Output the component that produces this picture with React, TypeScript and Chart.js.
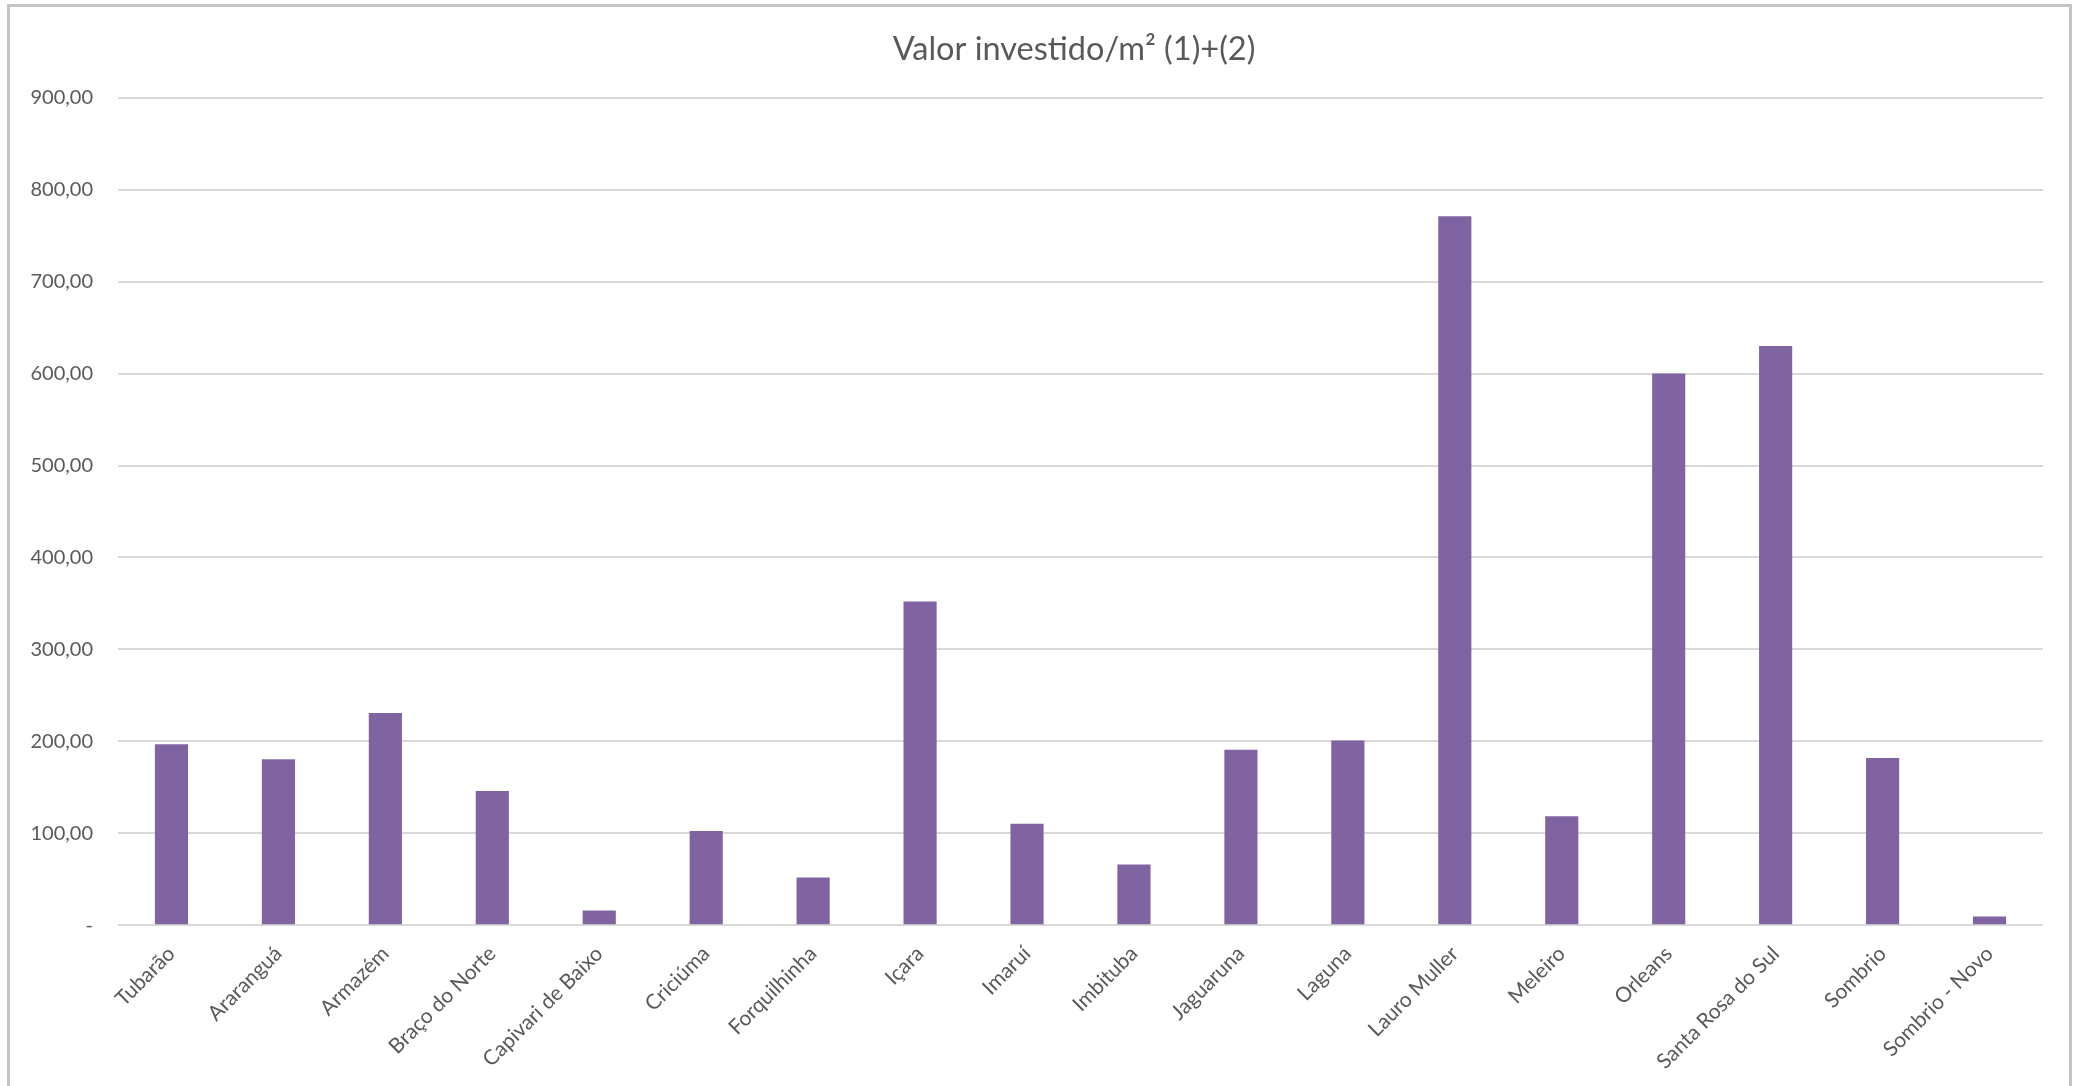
import React, { useEffect, useRef } from "react";
import { Chart, registerables } from "chart.js";

Chart.register(...registerables);

const categories = [
  "Tubarão",
  "Araranguá",
  "Armazém",
  "Braço do Norte",
  "Capivari de Baixo",
  "Criciúma",
  "Forquilhinha",
  "Içara",
  "Imaruí",
  "Imbituba",
  "Jaguaruna",
  "Laguna",
  "Lauro Muller",
  "Meleiro",
  "Orleans",
  "Santa Rosa do Sul",
  "Sombrio",
  "Sombrio - Novo",
];

const values = [197, 180.5, 231, 146, 16, 102.5, 52, 352, 110.5, 66, 191, 201, 771, 118.5, 600, 630, 182, 9.5];

const chartTitle = "Valor investido/m² (1)+(2)";
const yMin = 0;
const yMax = 900;
const yStep = 100;

const W = 2081;
const H = 1086;
const TITLE_SHIFT = 105;

const titleShift = {
  id: "titleShift",
  afterLayout(chart: any) {
    const t = chart.titleBlock;
    if (t) t.left = t.left + TITLE_SHIFT;
  },
};

export default function App() {
  const ref = useRef<HTMLCanvasElement | null>(null);

  useEffect(() => {
    if (!ref.current) return;
    const chart = new Chart(ref.current, {
      type: "bar",
      data: {
        labels: categories,
        datasets: [
          {
            label: chartTitle,
            data: values,
            backgroundColor: "#8064a2",
            borderWidth: 0,
            barPercentage: 1,
            categoryPercentage: 0.31,
          },
        ],
      },
      plugins: [titleShift],
      options: {
        animation: false,
        responsive: false,
        maintainAspectRatio: false,
        layout: { padding: { left: 0, right: 38, top: 0, bottom: 0 } },
        plugins: {
          legend: { display: false },
          tooltip: { enabled: false },
          title: {
            display: true,
            text: chartTitle,
            color: "#595959",
            font: { family: "Lato", size: 32.5, weight: "normal", lineHeight: 1.2 },
            padding: { top: 30, bottom: 28.7 },
          },
        },
        scales: {
          x: {
            grid: { display: false, drawTicks: false },
            border: { display: false },
            ticks: {
              color: "#595959",
              font: { family: "Lato", size: 21 },
              maxRotation: 45,
              minRotation: 45,
              autoSkip: false,
              padding: 16,
            },
            afterFit: (scale: any) => {
              scale.height = H - 925.3;
            },
          },
          y: {
            min: yMin,
            max: yMax,
            border: { display: false },
            grid: { color: "#d9d9d9", lineWidth: 2, drawTicks: false },
            ticks: {
              stepSize: yStep,
              color: "#595959",
              font: { family: "Lato", size: 20 },
              padding: 25,
              callback: (v: any) => (Number(v) === 0 ? "-" : Number(v).toFixed(2).replace(".", ",")),
            },
            afterFit: (scale: any) => {
              scale.width = 118;
            },
          },
        },
      },
    });
    return () => chart.destroy();
  }, []);

  return (
    <div style={{ position: "fixed", left: 0, top: 0, width: W, height: H, overflow: "hidden", background: "#fff" }}>
      <div
        style={{
          position: "absolute",
          left: 7,
          top: 4,
          width: 2072 - 7 - 6,
          height: H + 20,
          border: "3px solid #c4c4c4",
        }}
      />
      <canvas ref={ref} width={W} height={H} style={{ position: "absolute", left: 0, top: 0, width: W, height: H }} />
    </div>
  );
}
